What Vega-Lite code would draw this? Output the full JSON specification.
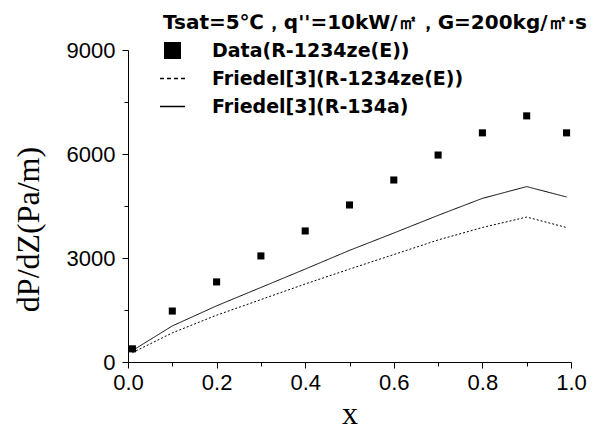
{
  "$schema": "https://vega.github.io/schema/vega-lite/v6.json",
  "width": 443,
  "height": 312,
  "autosize": {"type": "none"},
  "padding": {"left": 128, "top": 50, "right": 22, "bottom": 68},
  "background": "white",
  "config": {
    "view": {"stroke": null},
    "axis": {
      "domainColor": "black",
      "tickColor": "black",
      "labelColor": "black",
      "titleColor": "black",
      "grid": false,
      "labelFont": "Liberation Sans",
      "labelFontSize": 22,
      "titleFont": "Liberation Serif",
      "titleFontWeight": "normal"
    }
  },
  "datasets": {
    "pts": [
      {"x": 0.01, "y": 380, "series": "Data(R-1234ze(E))"},
      {"x": 0.1, "y": 1470, "series": "Data(R-1234ze(E))"},
      {"x": 0.2, "y": 2310, "series": "Data(R-1234ze(E))"},
      {"x": 0.3, "y": 3060, "series": "Data(R-1234ze(E))"},
      {"x": 0.4, "y": 3780, "series": "Data(R-1234ze(E))"},
      {"x": 0.5, "y": 4530, "series": "Data(R-1234ze(E))"},
      {"x": 0.6, "y": 5250, "series": "Data(R-1234ze(E))"},
      {"x": 0.7, "y": 5970, "series": "Data(R-1234ze(E))"},
      {"x": 0.8, "y": 6610, "series": "Data(R-1234ze(E))"},
      {"x": 0.9, "y": 7100, "series": "Data(R-1234ze(E))"},
      {"x": 0.99, "y": 6610, "series": "Data(R-1234ze(E))"}
    ],
    "lines": [
      {"x": 0.01, "y": 270, "series": "Friedel[3](R-1234ze(E))"},
      {"x": 0.1, "y": 840, "series": "Friedel[3](R-1234ze(E))"},
      {"x": 0.2, "y": 1350, "series": "Friedel[3](R-1234ze(E))"},
      {"x": 0.3, "y": 1800, "series": "Friedel[3](R-1234ze(E))"},
      {"x": 0.4, "y": 2250, "series": "Friedel[3](R-1234ze(E))"},
      {"x": 0.5, "y": 2680, "series": "Friedel[3](R-1234ze(E))"},
      {"x": 0.6, "y": 3100, "series": "Friedel[3](R-1234ze(E))"},
      {"x": 0.7, "y": 3520, "series": "Friedel[3](R-1234ze(E))"},
      {"x": 0.8, "y": 3880, "series": "Friedel[3](R-1234ze(E))"},
      {"x": 0.9, "y": 4180, "series": "Friedel[3](R-1234ze(E))"},
      {"x": 0.99, "y": 3880, "series": "Friedel[3](R-1234ze(E))"},
      {"x": 0.01, "y": 330, "series": "Friedel[3](R-134a)"},
      {"x": 0.1, "y": 1040, "series": "Friedel[3](R-134a)"},
      {"x": 0.2, "y": 1620, "series": "Friedel[3](R-134a)"},
      {"x": 0.3, "y": 2150, "series": "Friedel[3](R-134a)"},
      {"x": 0.4, "y": 2680, "series": "Friedel[3](R-134a)"},
      {"x": 0.5, "y": 3220, "series": "Friedel[3](R-134a)"},
      {"x": 0.6, "y": 3720, "series": "Friedel[3](R-134a)"},
      {"x": 0.7, "y": 4230, "series": "Friedel[3](R-134a)"},
      {"x": 0.8, "y": 4720, "series": "Friedel[3](R-134a)"},
      {"x": 0.9, "y": 5060, "series": "Friedel[3](R-134a)"},
      {"x": 0.99, "y": 4760, "series": "Friedel[3](R-134a)"}
    ]
  },
  "layer": [
    {
      "data": {"name": "pts"},
      "mark": {"type": "point", "shape": "square", "filled": true, "size": 50, "opacity": 1},
      "encoding": {
        "x": {
          "field": "x", "type": "quantitative",
          "scale": {"domain": [0, 1], "nice": false, "zero": false},
          "axis": {
            "orient": "bottom",
            "values": [0, 0.1, 0.2, 0.3, 0.4, 0.5, 0.6, 0.7, 0.8, 0.9, 1.0],
            "format": ".1f",
            "labelExpr": "round(datum.value * 10) % 2 === 0 ? datum.label : ''",
            "tickSize": {"condition": {"test": "round(datum.value * 10) % 2 === 1", "value": 4}, "value": 6},
            "labelPadding": 4, "title": "x", "titleFontSize": 32, "titlePadding": 5, "labelFlush": false
          }
        },
        "y": {
          "field": "y", "type": "quantitative",
          "scale": {"domain": [0, 9000], "nice": false},
          "axis": {
            "orient": "left",
            "values": [0, 1500, 3000, 4500, 6000, 7500, 9000],
            "format": "d",
            "labelExpr": "datum.value % 3000 === 0 ? datum.label : ''",
            "tickSize": {"condition": {"test": "datum.value % 3000 !== 0", "value": 4}, "value": 6},
            "labelPadding": 7, "title": "dP/dZ(Pa/m)", "titleFontSize": 32, "titleX": -83, "titleY": 179
          }
        },
        "color": {
          "field": "series", "type": "nominal",
          "scale": {"domain": ["Data(R-1234ze(E))", "Friedel[3](R-1234ze(E))", "Friedel[3](R-134a)"], "range": ["black", "black", "black"]},
          "legend": {
            "orient": "none", "legendX": 35, "legendY": -37,
            "title": "Tsat=5℃，q''=10kW/㎡，G=200kg/㎡·s",
            "titleFont": "DejaVu Sans", "titleFontWeight": "bold", "titleFontSize": 20, "titleColor": "black", "titleLimit": 600, "titlePadding": 8,
            "labelFont": "DejaVu Sans", "labelFontWeight": "bold", "labelFontSize": 19, "labelColor": "black", "labelLimit": 400, "labelOffset": 30,
            "symbolSize": 625,
            "symbolType": {"expr": "datum.value === 'Data(R-1234ze(E))' ? 'M-0.68,-0.68H0.68V0.68H-0.68Z' : 'stroke'"},
            "symbolDash": {"expr": "datum.value === 'Friedel[3](R-1234ze(E))' ? [4, 3] : [1, 0]"},
            "symbolFillColor": {"expr": "datum.value === 'Data(R-1234ze(E))' ? 'black' : 'transparent'"},
            "symbolStrokeColor": "black",
            "symbolStrokeWidth": {"expr": "datum.value === 'Data(R-1234ze(E))' ? 0 : 1.5"},
            "symbolOpacity": 1,
            "rowPadding": 8
          }
        }
      }
    },
    {
      "data": {"name": "lines"},
      "mark": {"type": "line", "strokeWidth": 1},
      "encoding": {
        "x": {"field": "x", "type": "quantitative"},
        "y": {"field": "y", "type": "quantitative"},
        "color": {"field": "series", "type": "nominal"},
        "strokeDash": {
          "field": "series", "type": "nominal",
          "scale": {"domain": ["Friedel[3](R-1234ze(E))", "Friedel[3](R-134a)"], "range": [[2, 2], [1, 0]]},
          "legend": null
        }
      }
    }
  ]
}
